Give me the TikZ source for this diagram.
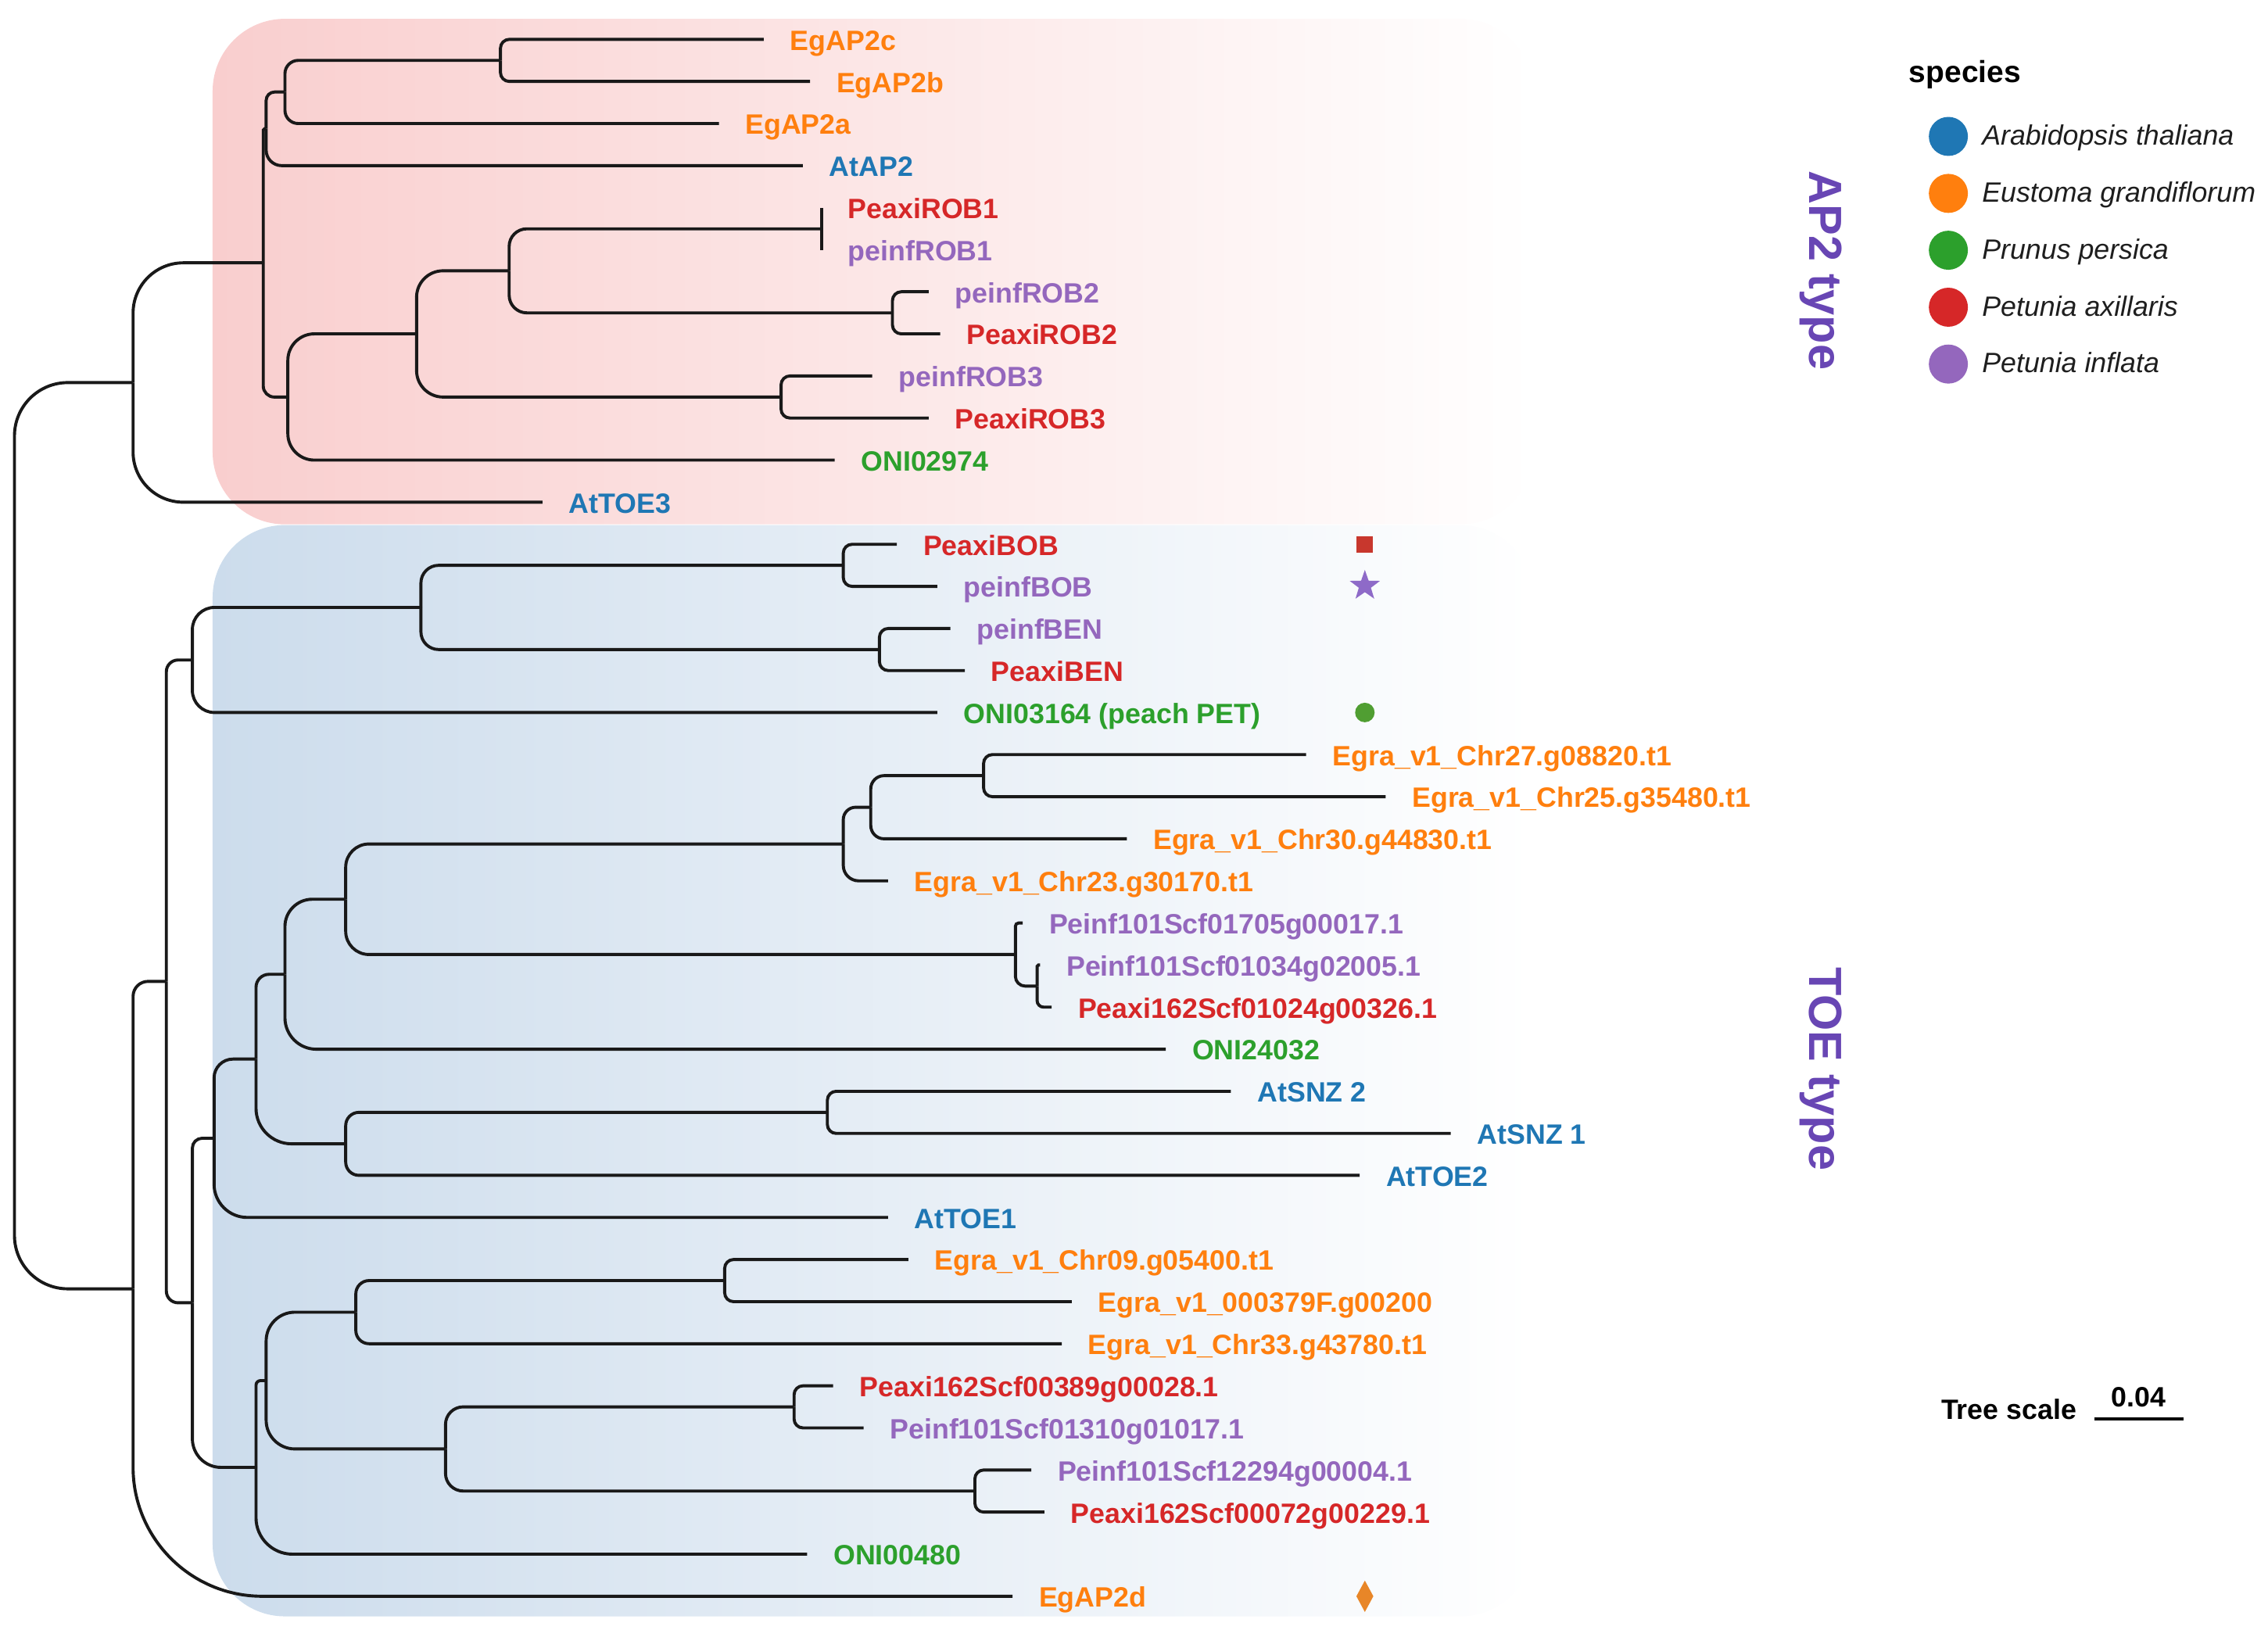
\documentclass[tikz,border=0pt]{standalone}
\usepackage{fontspec}
\setmainfont{Liberation Sans}
\usetikzlibrary{calc,shapes.geometric}
\definecolor{cB}{RGB}{31,119,180}
\definecolor{cO}{RGB}{255,127,14}
\definecolor{cG}{RGB}{44,160,44}
\definecolor{cR}{RGB}{214,39,40}
\definecolor{cP}{RGB}{148,103,189}
\definecolor{pinkbg}{RGB}{249,206,206}
\definecolor{bluebg}{RGB}{204,220,236}
\definecolor{typecol}{RGB}{104,70,180}
\definecolor{branchcol}{RGB}{25,25,25}
\definecolor{legtxt}{RGB}{30,30,30}
\definecolor{mkR}{RGB}{200,55,45}
\definecolor{mkP}{RGB}{142,106,200}
\definecolor{mkG}{RGB}{80,158,50}
\definecolor{mkO}{RGB}{232,134,40}
\tikzset{
 branch/.style={draw=branchcol,line width=1.2pt},
 lab/.style={font=\fontsize{11}{13}\selectfont\bfseries,inner sep=0pt,anchor=base west},
 legtitle/.style={font=\fontsize{12}{14}\selectfont\bfseries,inner sep=0pt,anchor=base west,text=black},
 legitem/.style={font=\fontsize{11}{13}\selectfont\itshape,inner sep=0pt,anchor=base west,text=legtxt},
 legdot/.style={circle,inner sep=0pt,minimum size=0.54cm},
 typelab/.style={font=\fontsize{18.3}{20}\selectfont\bfseries,text=typecol,rotate=-90,anchor=base,inner sep=0pt},
 mkbox/.style={inner sep=0pt}
}
\newcommand\leaf[5]{\coordinate (#1) at (#2,#3);
  \node[lab,text=#4] (#1t) at ([shift={(0.36cm,-0.15cm)}]#1) {#5};}
\newcommand\edge[2]{%
  \path let \p1=(#1),\p2=(#2) in \pgfextra{\pgfmathsetmacro\rr{min(0.42*abs(\y2-\y1),0.45*abs(\x2-\x1))}\xdef\rrr{\rr}};
  \draw[branch,rounded corners=\rrr pt] (#1) |- (#2);}
\begin{document}
\begin{tikzpicture}[x=0.02cm,y=-0.02cm]
\useasboundingbox (0,0) rectangle (1568,1126.4);
% backgrounds
\path[left color=pinkbg,right color=white,rounded corners=1cm] (147,13) rectangle (1060,362.5);
\path[left color=bluebg,right color=white,rounded corners=1cm] (147,363) rectangle (1060,1117.5);
% leaves
\leaf{L1}{528}{27.2}{cO}{EgAP2c}
\leaf{L2}{560}{56.3}{cO}{EgAP2b}
\leaf{L3}{497}{85.4}{cO}{EgAP2a}
\leaf{L4}{555}{114.5}{cB}{AtAP2}
\leaf{L5}{568}{143.6}{cR}{PeaxiROB1}
\leaf{L6}{568}{172.7}{cP}{peinfROB1}
\leaf{L7}{642}{201.7}{cP}{peinfROB2}
\leaf{L8}{650}{230.8}{cR}{PeaxiROB2}
\leaf{L9}{603}{259.9}{cP}{peinfROB3}
\leaf{L10}{642}{289.0}{cR}{PeaxiROB3}
\leaf{L11}{577}{318.1}{cG}{ONI02974}
\leaf{L12}{375}{347.2}{cB}{AtTOE3}
\leaf{L13}{620}{376.3}{cR}{PeaxiBOB}
\leaf{L14}{648}{405.4}{cP}{peinfBOB}
\leaf{L15}{657}{434.5}{cP}{peinfBEN}
\leaf{L16}{667}{463.6}{cR}{PeaxiBEN}
\leaf{L17}{648}{492.6}{cG}{ONI03164 (peach PET)}
\leaf{L18}{903}{521.7}{cO}{Egra\_v1\_Chr27.g08820.t1}
\leaf{L19}{958}{550.8}{cO}{Egra\_v1\_Chr25.g35480.t1}
\leaf{L20}{779}{579.9}{cO}{Egra\_v1\_Chr30.g44830.t1}
\leaf{L21}{614}{609.0}{cO}{Egra\_v1\_Chr23.g30170.t1}
\leaf{L22}{707}{638.1}{cP}{Peinf101Scf01705g00017.1}
\leaf{L23}{719}{667.2}{cP}{Peinf101Scf01034g02005.1}
\leaf{L24}{727}{696.3}{cR}{Peaxi162Scf01024g00326.1}
\leaf{L25}{806}{725.4}{cG}{ONI24032}
\leaf{L26}{851}{754.5}{cB}{AtSNZ 2}
\leaf{L27}{1003}{783.6}{cB}{AtSNZ 1}
\leaf{L28}{940}{812.6}{cB}{AtTOE2}
\leaf{L29}{614}{841.7}{cB}{AtTOE1}
\leaf{L30}{628}{870.8}{cO}{Egra\_v1\_Chr09.g05400.t1}
\leaf{L31}{741}{899.9}{cO}{Egra\_v1\_000379F.g00200}
\leaf{L32}{734}{929.0}{cO}{Egra\_v1\_Chr33.g43780.t1}
\leaf{L33}{576}{958.1}{cR}{Peaxi162Scf00389g00028.1}
\leaf{L34}{597}{987.2}{cP}{Peinf101Scf01310g01017.1}
\leaf{L35}{713}{1016.3}{cP}{Peinf101Scf12294g00004.1}
\leaf{L36}{722}{1045.4}{cR}{Peaxi162Scf00072g00229.1}
\leaf{L37}{558}{1074.5}{cG}{ONI00480}
\leaf{L38}{700}{1103.6}{cO}{EgAP2d}
% internal nodes
\coordinate (aC12) at (346,41.75);
\coordinate (aC123) at (197,63.6);
\coordinate (aA) at (184,89.0);
\coordinate (aR1) at (568,158.2);
\coordinate (aR2) at (617,216.3);
\coordinate (aR12) at (352,187.2);
\coordinate (aR3) at (540,274.5);
\coordinate (aR123) at (288,230.8);
\coordinate (aRO) at (199,274.5);
\coordinate (aB) at (182,181.7);
\coordinate (aC) at (92,264.5);
\coordinate (root) at (10,577.8);
\coordinate (bBOB) at (583,390.85);
\coordinate (bBEN) at (608,449.05);
\coordinate (bBB) at (291,419.95);
\coordinate (bF) at (133,456.3);
\coordinate (bE1) at (680,536.25);
\coordinate (bE2) at (602,558.1);
\coordinate (bM) at (583,583.5);
\coordinate (bP1) at (717,681.75);
\coordinate (bN) at (702,659.9);
\coordinate (bL) at (239,621.7);
\coordinate (bK) at (197,673.6);
\coordinate (bSNZ) at (572,769.05);
\coordinate (bJ) at (239,790.8);
\coordinate (bI) at (177,732.2);
\coordinate (bH) at (148,786.95);
\coordinate (bE3) at (501,885.35);
\coordinate (bR) at (246,907.2);
\coordinate (bP2) at (549,972.65);
\coordinate (bP3) at (674,1030.85);
\coordinate (bS) at (308,1001.75);
\coordinate (bQ) at (184,954.5);
\coordinate (bP) at (177,1014.5);
\coordinate (bG) at (133,900.7);
\coordinate (bE) at (115,678.5);
\coordinate (bD) at (92,891.05);
% edges
\edge{root}{aC}\edge{root}{bD}
\edge{aC}{aB}\edge{aC}{L12}
\edge{aB}{aA}\edge{aB}{aRO}
\edge{aA}{aC123}\edge{aA}{L4}
\edge{aC123}{aC12}\edge{aC123}{L3}
\edge{aC12}{L1}\edge{aC12}{L2}
\edge{aRO}{aR123}\edge{aRO}{L11}
\edge{aR123}{aR12}\edge{aR123}{aR3}
\edge{aR12}{aR1}\edge{aR12}{aR2}
\edge{aR1}{L5}\edge{aR1}{L6}
\edge{aR2}{L7}\edge{aR2}{L8}
\edge{aR3}{L9}\edge{aR3}{L10}
\edge{bD}{bE}\edge{bD}{L38}
\edge{bE}{bF}\edge{bE}{bG}
\edge{bF}{bBB}\edge{bF}{L17}
\edge{bBB}{bBOB}\edge{bBB}{bBEN}
\edge{bBOB}{L13}\edge{bBOB}{L14}
\edge{bBEN}{L15}\edge{bBEN}{L16}
\edge{bG}{bH}\edge{bG}{bP}
\edge{bH}{bI}\edge{bH}{L29}
\edge{bI}{bK}\edge{bI}{bJ}
\edge{bK}{bL}\edge{bK}{L25}
\edge{bL}{bM}\edge{bL}{bN}
\edge{bM}{bE2}\edge{bM}{L21}
\edge{bE2}{bE1}\edge{bE2}{L20}
\edge{bE1}{L18}\edge{bE1}{L19}
\edge{bN}{L22}\edge{bN}{bP1}
\edge{bP1}{L23}\edge{bP1}{L24}
\edge{bJ}{bSNZ}\edge{bJ}{L28}
\edge{bSNZ}{L26}\edge{bSNZ}{L27}
\edge{bP}{bQ}\edge{bP}{L37}
\edge{bQ}{bR}\edge{bQ}{bS}
\edge{bR}{bE3}\edge{bR}{L32}
\edge{bE3}{L30}\edge{bE3}{L31}
\edge{bS}{bP2}\edge{bS}{bP3}
\edge{bP2}{L33}\edge{bP2}{L34}
\edge{bP3}{L35}\edge{bP3}{L36}
% markers
\node[mkbox,rectangle,fill=mkR,minimum size=0.23cm] (mk1) at (943.6,376.3) {};
\node[mkbox,star,star points=5,star point ratio=2.5,fill=mkP,minimum size=0.44cm] (mk2) at (943.6,405) {};
\node[mkbox,circle,fill=mkG,minimum size=0.27cm] (mk3) at (943.6,492.6) {};
\node[mkbox,diamond,fill=mkO,minimum width=0.24cm,minimum height=0.44cm] (mk4) at (943.6,1103.6) {};
% type labels
\node[typelab] (tAP2) at (1251,187) {AP2 type};
\node[typelab] (tTOE) at (1251,739) {TOE type};
% legend
\node[legtitle] (lgT) at (1319.5,57) {species};
\node[legdot,fill=cB] (d1) at (1347,94.3) {};
\node[legdot,fill=cO] (d2) at (1347,133.7) {};
\node[legdot,fill=cG] (d3) at (1347,173) {};
\node[legdot,fill=cR] (d4) at (1347,212.4) {};
\node[legdot,fill=cP] (d5) at (1347,251.7) {};
\node[legitem] (g1) at (1370,100.3) {Arabidopsis thaliana};
\node[legitem] (g2) at (1370,139.7) {Eustoma grandiflorum};
\node[legitem] (g3) at (1370,179) {Prunus persica};
\node[legitem] (g4) at (1370,218.4) {Petunia axillaris};
\node[legitem] (g5) at (1370,257.7) {Petunia inflata};
% tree scale
\node[lab,text=black] (ts) at (1341.7,981) {Tree scale};
\coordinate (sb1) at (1447.8,981);
\coordinate (sb2) at (1509.4,981);
\draw[line width=1.5pt,black] (sb1) -- (sb2);
\node[lab,text=black,anchor=base] (tsv) at (1478.6,972.6) {0.04};
\end{tikzpicture}
\end{document}
